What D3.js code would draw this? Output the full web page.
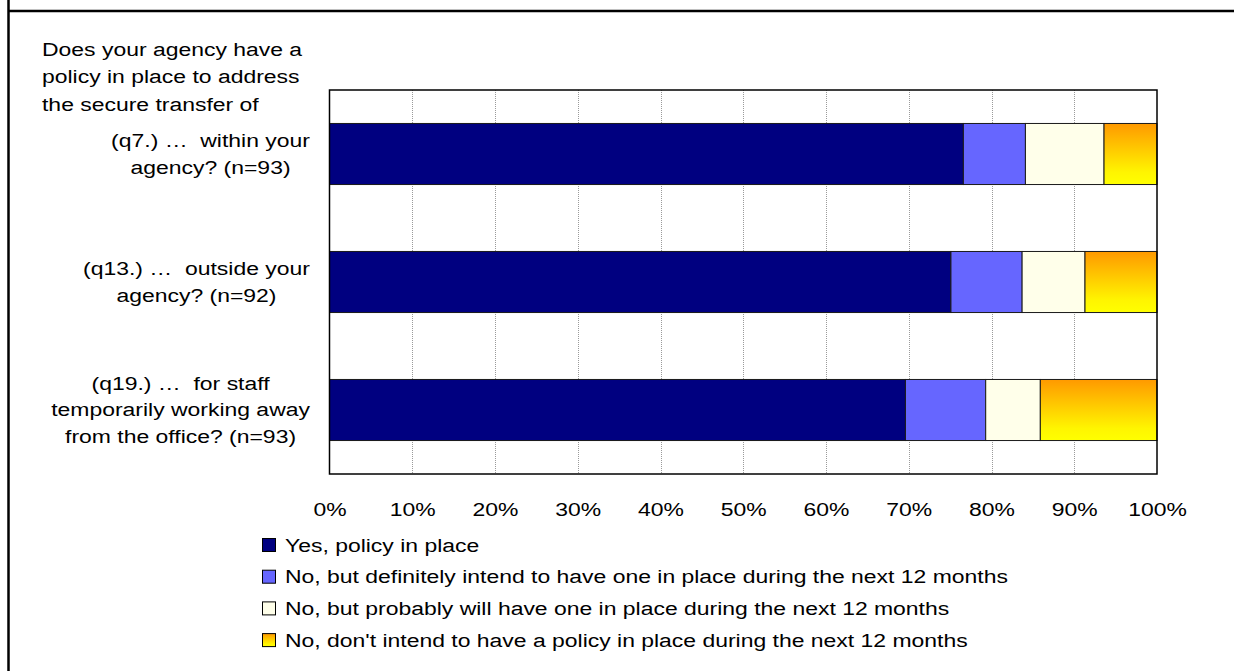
<!DOCTYPE html>
<html>
<head>
<meta charset="utf-8">
<script src="https://cdn.jsdelivr.net/npm/d3@7"></script>
<style>
  html, body { margin: 0; padding: 0; background: #fff; }
  svg { display: block; }
  text { font-family: "Liberation Sans", Arial, Helvetica, sans-serif; font-size: 18px; fill: #000; white-space: pre; }
</style>
</head>
<body>
<svg id="chart" width="1234" height="671"></svg>
<script>
// Survey question and answer categories
const questionLines = ["Does your agency have a", "policy in place to address", "the secure transfer of"];
const categories = ["q7", "q13", "q19"];
const categoryLabels = [
  ["(q7.) \u2026  within your", "agency? (n=93)"],
  ["(q13.) \u2026  outside your", "agency? (n=92)"],
  ["(q19.) \u2026  for staff", "temporarily working away", "from the office? (n=93)"]
];
const seriesKeys = ["yes", "definitely", "probably", "dontIntend"];
const seriesNames = [
  "Yes, policy in place",
  "No, but definitely intend to have one in place during the next 12 months",
  "No, but probably will have one in place during the next 12 months",
  "No, don't intend to have a policy in place during the next 12 months"
];
// Share of respondents (%) per answer, one value per question
const yesValues        = [76.6, 75.1, 69.6];
const definitelyValues = [7.5, 8.6, 9.7];
const probablyValues   = [9.5, 7.6, 6.6];
const dontIntendValues = [6.4, 8.7, 14.1];
const tickValues = [0, 0.1, 0.2, 0.3, 0.4, 0.5, 0.6, 0.7, 0.8, 0.9, 1.0];

const rows = categories.map((c, i) => ({
  category: c,
  yes: yesValues[i] / 100,
  definitely: definitelyValues[i] / 100,
  probably: probablyValues[i] / 100,
  dontIntend: dontIntendValues[i] / 100
}));

const TX = 1.275; // horizontal stretch of the lettering
const svg = d3.select("#chart");
const defs = svg.append("defs");
const grad = defs.append("linearGradient")
  .attr("id", "orangeYellow").attr("x1", 0).attr("y1", 0).attr("x2", 0).attr("y2", 1);
grad.append("stop").attr("offset", "0%").attr("stop-color", "#FF9900");
grad.append("stop").attr("offset", "80%").attr("stop-color", "#FFF500");
grad.append("stop").attr("offset", "100%").attr("stop-color", "#FFFF00");

const fills = {
  yes: "#000080",
  definitely: "#6666FF",
  probably: "#FFFFEA",
  dontIntend: "url(#orangeYellow)"
};

// Outer frame lines
svg.append("line").attr("x1", 8.5).attr("x2", 1234).attr("y1", 11).attr("y2", 11)
  .attr("stroke", "#000").attr("stroke-width", 2.5);
svg.append("line").attr("x1", 8.5).attr("x2", 8.5).attr("y1", 0).attr("y2", 671)
  .attr("stroke", "#000").attr("stroke-width", 2.5);

const plot = { left: 329.5, right: 1157, top: 90, bottom: 474 };

const x = d3.scaleLinear().domain([0, 1]).range([plot.left, plot.right]);
const y = d3.scaleBand().domain(categories).range([plot.top, plot.bottom])
  .paddingInner(0.523).paddingOuter(0.2615);

// Gridlines
svg.append("g").selectAll("line").data(tickValues.slice(1, -1)).join("line")
  .attr("x1", d => Math.round(x(d)) + 0.5).attr("x2", d => Math.round(x(d)) + 0.5)
  .attr("y1", plot.top).attr("y2", plot.bottom)
  .attr("stroke", "#9a9a9a").attr("stroke-width", 1).attr("stroke-dasharray", "1,1");

// Stacked bars
const stacked = d3.stack().keys(seriesKeys)(rows);
svg.append("g").selectAll("g").data(stacked).join("g")
  .attr("fill", d => fills[d.key])
  .selectAll("rect").data(d => d).join("rect")
  .attr("x", d => x(d[0]))
  .attr("width", d => x(d[1]) - x(d[0]))
  .attr("y", d => y(d.data.category))
  .attr("height", y.bandwidth())
  .attr("stroke", "#1a1a1a").attr("stroke-width", 1);

// Plot border
svg.append("rect")
  .attr("x", plot.left).attr("y", plot.top)
  .attr("width", plot.right - plot.left).attr("height", plot.bottom - plot.top)
  .attr("fill", "none").attr("stroke", "#000").attr("stroke-width", 1.5);

// X axis labels
const xAxis = d3.axisBottom(x).tickValues(tickValues).tickFormat(d3.format(".0%")).tickSize(0);
const axisG = svg.append("g").attr("transform", `translate(0,${plot.bottom})`).call(xAxis);
axisG.select(".domain").remove();
axisG.selectAll("text")
  .attr("y", 0).attr("dy", null)
  .attr("transform", `translate(0,42) scale(${TX},1)`)
  .attr("text-anchor", "middle")
  .attr("font-size", 18)
  .attr("font-family", "Liberation Sans, Arial, sans-serif")
  .attr("fill", "#000");

// Question text
svg.append("g").selectAll("text").data(questionLines).join("text")
  .attr("transform", (d, i) => `translate(42,${55.5 + i * 27.5}) scale(${TX},1)`)
  .text(d => d);

// Category labels: lines centered within a right-aligned block
const labelRight = 310;
const lineGap = 26.8;
categories.forEach((c, i) => {
  const lines = categoryLabels[i];
  const g = svg.append("g");
  const texts = g.selectAll("text").data(lines).join("text").text(d => d)
    .attr("text-anchor", "middle");
  let maxW = 0;
  texts.each(function () { maxW = Math.max(maxW, this.getComputedTextLength() * TX); });
  const cx = labelRight - maxW / 2;
  const cy = y(c) + y.bandwidth() / 2;
  const first = cy - (lines.length - 1) * lineGap / 2 + 6.3;
  texts.attr("transform", (d, j) => `translate(${cx},${first + j * lineGap}) scale(${TX},1)`);
});

// Legend
const legend = svg.append("g").selectAll("g").data(seriesKeys).join("g")
  .attr("transform", (d, i) => `translate(262.5,${538.5 + i * 31.7})`);
legend.append("rect")
  .attr("width", 13).attr("height", 13)
  .attr("fill", d => fills[d]).attr("stroke", "#000").attr("stroke-width", 1);
legend.append("text")
  .attr("transform", `translate(22.5,13) scale(${TX},1)`)
  .text((d, i) => seriesNames[i]);
</script>
</body>
</html>
